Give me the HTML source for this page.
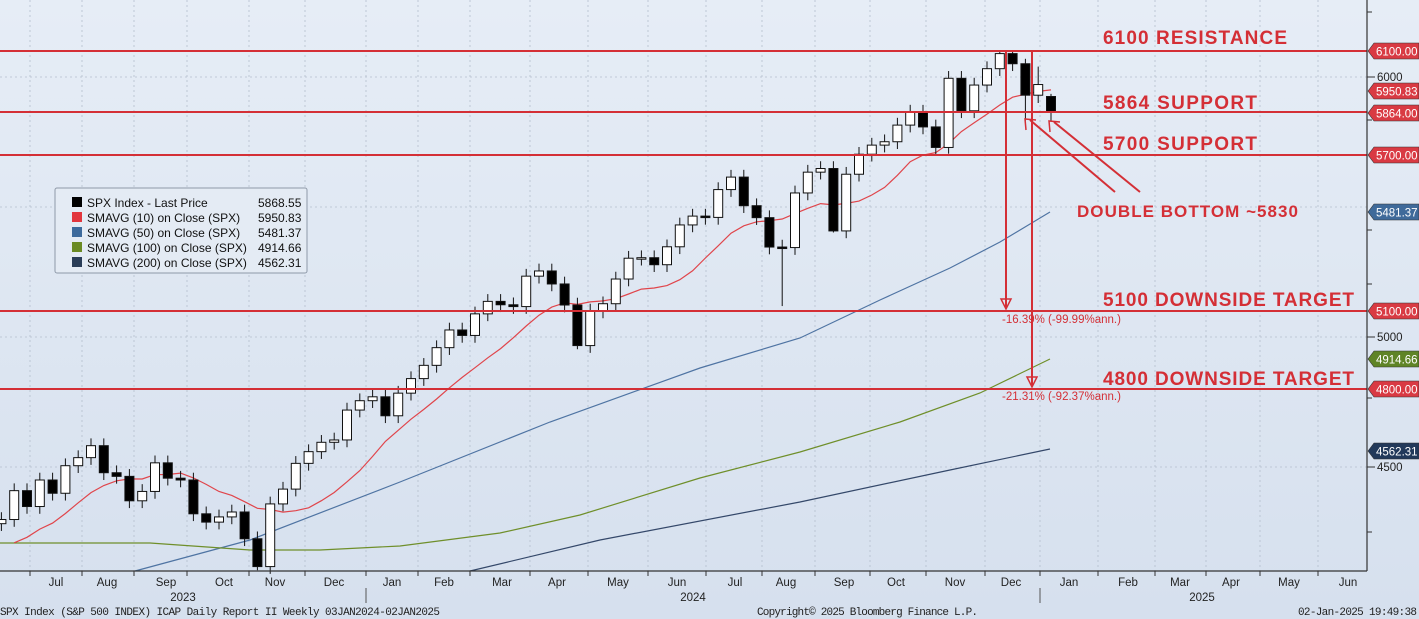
<!DOCTYPE html>
<html><head><meta charset="utf-8"><style>
html,body{margin:0;padding:0;width:1419px;height:619px;overflow:hidden;background:#dde6f1}
svg{display:block;font-family:"Liberation Sans",sans-serif}
</style></head><body>
<svg id="c" width="1419" height="619" viewBox="0 0 1419 619" xmlns="http://www.w3.org/2000/svg">
<defs><linearGradient id="bg" x1="0" y1="0" x2="0" y2="1"><stop offset="0" stop-color="#e6edf6"/><stop offset="1" stop-color="#d6e0ee"/></linearGradient></defs>
<rect width="1419" height="619" fill="url(#bg)"/>
<g id="grid" stroke="#b4bfcd" stroke-width="0.8" stroke-dasharray="2,3" fill="none"></g>
<g id="ma"></g>
<g id="candles"></g>
<g stroke="#d42f36" stroke-width="2">
<line x1="0" y1="51" x2="1367" y2="51"/><line x1="0" y1="112" x2="1367" y2="112"/>
<line x1="0" y1="155" x2="1367" y2="155"/><line x1="0" y1="311" x2="1367" y2="311"/>
<line x1="0" y1="389" x2="1367" y2="389"/>
<line x1="1006" y1="51" x2="1006" y2="308"/><line x1="1032" y1="51" x2="1032" y2="386"/>
<line x1="1140" y1="192" x2="1054" y2="122"/><line x1="1115" y1="192" x2="1030" y2="120"/>
</g>
<g stroke="#d42f36" stroke-width="1.5" fill="none">
<polygon points="1001,299 1011,299 1006,309"/><polygon points="1027,377 1037,377 1032,387"/>
<polyline points="1050,132 1049,121 1060,122"/><polyline points="1026,130 1025,119 1036,120"/>
</g>
<g fill="#d42f36" font-weight="bold" font-size="19" lengthAdjust="spacingAndGlyphs">
<text x="1103" y="44" textLength="184">6100 RESISTANCE</text>
<text x="1103" y="109" textLength="154">5864 SUPPORT</text>
<text x="1103" y="150" textLength="154">5700 SUPPORT</text>
<text x="1077" y="217" font-size="17" textLength="221">DOUBLE BOTTOM ~5830</text>
<text x="1103" y="306" textLength="251">5100 DOWNSIDE TARGET</text>
<text x="1103" y="385" textLength="251">4800 DOWNSIDE TARGET</text>
</g>
<g fill="#d42f36" font-size="11.5">
<text x="1002" y="323">-16.39% (-99.99%ann.)</text>
<text x="1002" y="400">-21.31% (-92.37%ann.)</text>
</g>
<line x1="1367" y1="0" x2="1367" y2="571" stroke="#333" stroke-width="1.2"/>
<line x1="0" y1="571" x2="1367" y2="571" stroke="#333" stroke-width="1.2"/>
<g id="axis" font-size="11.5" fill="#222"></g>
<g id="tags" font-size="11.5"></g>
<rect x="55" y="188" width="252" height="85" fill="#e4ebf4" stroke="#8e99a8" rx="2"/>
<g font-size="12" fill="#111">
<rect x="72" y="197" width="10" height="10" fill="#000"/><text x="87" y="207">SPX Index - Last Price</text><text x="258" y="207">5868.55</text>
<rect x="72" y="212" width="10" height="10" fill="#e2363d"/><text x="87" y="222">SMAVG (10)  on Close (SPX)</text><text x="258" y="222">5950.83</text>
<rect x="72" y="227" width="10" height="10" fill="#3d6a9c"/><text x="87" y="237">SMAVG (50)  on Close (SPX)</text><text x="258" y="237">5481.37</text>
<rect x="72" y="242" width="10" height="10" fill="#6a8a24"/><text x="87" y="252">SMAVG (100)  on Close (SPX)</text><text x="258" y="252">4914.66</text>
<rect x="72" y="257" width="10" height="10" fill="#2a3d58"/><text x="87" y="267">SMAVG (200)  on Close (SPX)</text><text x="258" y="267">4562.31</text>
</g>
<g font-size="11" fill="#222" font-family="Liberation Mono, monospace" lengthAdjust="spacingAndGlyphs">
<text x="0" y="615" textLength="440">SPX Index (S&amp;P 500 INDEX) ICAP Daily Report II  Weekly 03JAN2024-02JAN2025</text>
<text x="757" y="615" textLength="221">Copyright© 2025 Bloomberg Finance L.P.</text>
<text x="1298" y="615" textLength="119">02-Jan-2025 19:49:38</text>
</g>
</svg>
<script>
var NS="http://www.w3.org/2000/svg";
function el(p,t,a,txt){var e=document.createElementNS(NS,t);for(var k in a)e.setAttribute(k,a[k]);if(txt!=null)e.textContent=txt;document.getElementById(p).appendChild(e);return e;}
function Y(p){return 51+(6100-p)*0.26;}
var C=[4137,4133,4169,4136,4124,4191,4205,4282,4298,4409,4348,4450,4399,4505,4536,4582,4478,4464,4370,4406,4516,4457,4450,4320,4288,4308,4327,4224,4117,4358,4415,4514,4559,4595,4604,4719,4755,4770,
4697,4784,4840,4891,4959,5027,5006,5089,5137,5124,5117,5234,5254,5204,5123,4967,5100,5128,5223,5303,5305,5278,5347,5431,5465,5460,5567,5615,5505,5459,5346,5344,5554,5634,5648,5408,5626,5703,5738,5751,5815,5865,5808,5729,5995,5870,5969,6032,6090,6051,5930,5971,5868];
var N=C.length;
function X(i){return 1051-(N-1-i)*12.8;}
var lowO={28:4103,53:4953,69:5119,73:5402,88:5832,89:5900,90:5830,81:5700,82:5705};
var hiO={88:6070,89:6040,90:5935,86:6100,87:6100};
[77,207,337,467].forEach(function(y){el("grid","line",{x1:0,y1:y,x2:1367,y2:y});});
var months=[30,82,134,187,249,305,366,418,470,530,588,648,706,762,815,870,926,985,1040,1098,1155,1206,1260,1318];
months.forEach(function(x){el("grid","line",{x1:x,y1:0,x2:x,y2:571});el("axis","line",{x1:x,y1:571,x2:x,y2:576,stroke:"#333"});});
var ml=[["Jul",56],["Aug",107],["Sep",166],["Oct",224],["Nov",275],["Dec",334],["Jan",392],["Feb",444],["Mar",502],["Apr",557],["May",618],["Jun",677],["Jul",735],["Aug",786],["Sep",844],["Oct",896],["Nov",955],["Dec",1011],["Jan",1069],["Feb",1128],["Mar",1180],["Apr",1231],["May",1289],["Jun",1348]];
ml.forEach(function(m){el("axis","text",{x:m[1],y:586,"text-anchor":"middle"},m[0]);});
[["2023",183],["2024",693],["2025",1202]].forEach(function(m){el("axis","text",{x:m[1],y:601,"text-anchor":"middle"},m[0]);});
[366,1040].forEach(function(x){el("axis","line",{x1:x,y1:588,x2:x,y2:603,stroke:"#555"});});
[[6000,77],[5000,337],[4500,467]].forEach(function(t){el("axis","line",{x1:1367,y1:t[1],x2:1375,y2:t[1],stroke:"#333"});el("axis","text",{x:1377,y:t[1]+4},t[0]);});
[12,120,230,284,398,532].forEach(function(y){el("axis","line",{x1:1367,y1:y,x2:1372,y2:y,stroke:"#333"});});
var blue=[[135,571],[250,540],[400,482],[550,422],[700,368],[800,338],[880,300],[950,268],[1000,242],[1050,212]];
var green=[[0,543],[150,543],[250,550],[320,550],[400,546],[500,533],[580,515],[700,478],[800,452],[900,422],[980,393],[1050,359]];
var dark=[[470,571],[600,540],[800,502],[950,470],[1050,449]];
function pl(pts,c){el("ma","polyline",{points:pts.map(function(p){return p.join(",")}).join(" "),fill:"none",stroke:c,"stroke-width":1.2});}
pl(blue,"#4f74a3");pl(green,"#6f8f2a");pl(dark,"#34486a");
var red=[];for(var i=9;i<N;i++){var s=0;for(var j=i-9;j<=i;j++)s+=C[j];s/=10;if(X(i)>-15)red.push([X(i).toFixed(1),Y(s).toFixed(1)]);}
pl(red,"#e0454b");
for(var i=1;i<N;i++){var x=X(i);if(x<-10)continue;var o=C[i-1],c=C[i];if(i==89)o=5930;if(i==90)o=5925;
var hi=hiO[i]||Math.max(o,c)+28,lo=lowO[i]||Math.min(o,c)-28;
el("candles","line",{x1:x,y1:Y(hi),x2:x,y2:Y(lo),stroke:"#111","stroke-width":1});
var t=Y(Math.max(o,c)),b=Y(Math.min(o,c));if(b-t<1.5)b=t+1.5;
el("candles","rect",{x:x-4.5,y:t,width:9,height:b-t,fill:c>=o?"#fff":"#000",stroke:"#111","stroke-width":1});}
function tag(y,v,c){el("tags","polygon",{points:"1368,"+y+" 1374,"+(y-8)+" 1419,"+(y-8)+" 1419,"+(y+8)+" 1374,"+(y+8),fill:c,stroke:"#333","stroke-width":0.6});el("tags","text",{x:1376,y:y+4.5,fill:"#fff"},v);}
tag(51,"6100.00","#d93a43");tag(91,"5950.83","#d93a43");tag(113,"5864.00","#d93a43");tag(155,"5700.00","#d93a43");
tag(212,"5481.37","#3f6a9a");tag(311,"5100.00","#d93a43");tag(359,"4914.66","#5f8426");tag(389,"4800.00","#d93a43");tag(451,"4562.31","#22395a");
</script>
</body></html>
